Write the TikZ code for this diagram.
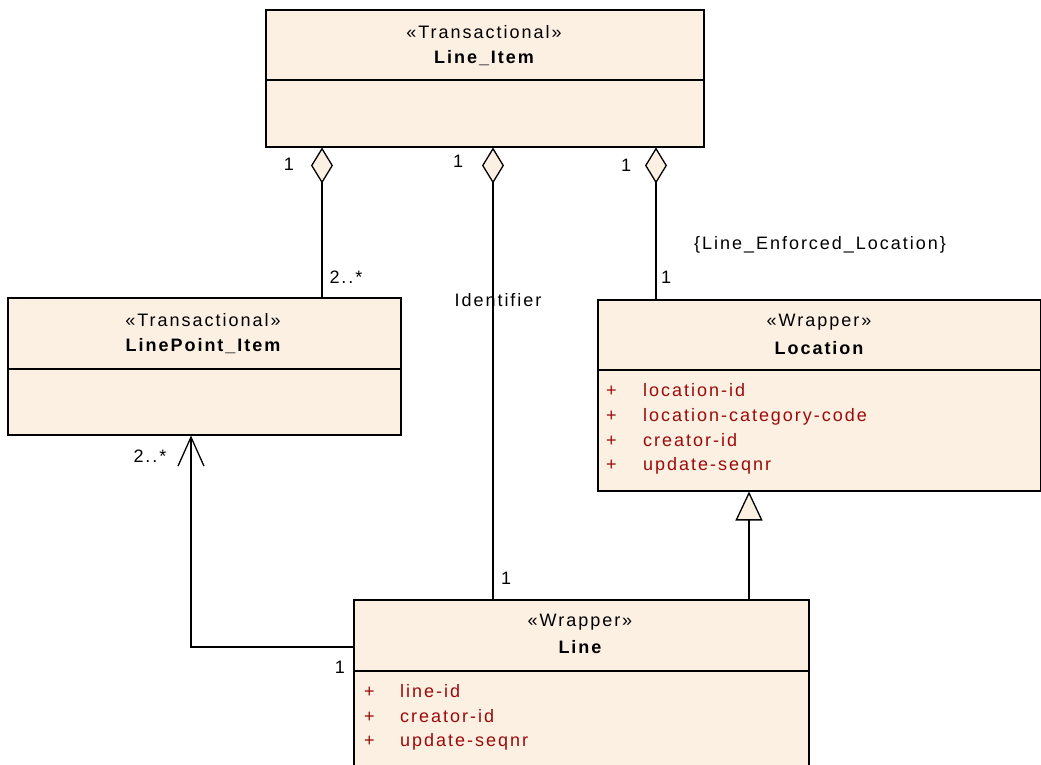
\documentclass[tikz,border=0pt]{standalone}
\usepackage{fontspec}
\setmainfont{Liberation Sans}[LetterSpace=11]
\usetikzlibrary{arrows.meta}
\definecolor{UMLFill}{HTML}{FBF0E2}
\definecolor{UMLAttr}{HTML}{9C0A0A}

\begin{document}
\begin{tikzpicture}[x=1pt,y=-1pt,
  every node/.style={font=\fontsize{18}{21}\selectfont,inner sep=0pt},
  umlbox/.style={draw,line width=1.5pt,fill=UMLFill,anchor=north west},
  cname/.style={font=\fontsize{18}{21}\selectfont\bfseries},
  attr/.style={anchor=base west,text=UMLAttr},
  sep/.style={line width=1.5pt},
  conn/.style={line width=1.3pt},
  aggr/.style={conn,{Diamond[length=36pt,width=22pt,fill=UMLFill,line width=1.3pt]}-},
  nav/.style={conn,-{Straight Barb[length=29pt,width=26pt,line width=1.3pt]}},
  gen/.style={conn,-{Triangle[open,length=29pt,width=27pt,fill=UMLFill,line width=1.3pt]}}]
\path[use as bounding box] (0,0) rectangle (1041,764);
% classes
\node[umlbox,minimum width=438pt,minimum height=137pt] (li) at (265,9) {};
\draw[sep] ([yshift=-71pt]li.north west) -- ([yshift=-71pt]li.north east);
\node (liS) at (484,32) {«Transactional»};
\node[cname] (liN) at (484,58) {Line\_Item};
\node[umlbox,minimum width=393pt,minimum height=137pt] (lp) at (7,297) {};
\draw[sep] ([yshift=-72pt]lp.north west) -- ([yshift=-72pt]lp.north east);
\node (lpS) at (203,320) {«Transactional»};
\node[cname] (lpN) at (203,346) {LinePoint\_Item};
\node[umlbox,minimum width=443pt,minimum height=191pt] (loc) at (597,299) {};
\draw[sep] ([yshift=-71pt]loc.north west) -- ([yshift=-71pt]loc.north east);
\node (locS) at (819,322) {«Wrapper»};
\node[cname] (locN) at (819,348) {Location};
\node[attr] at (606,396) {+};
\node[attr] at (643,396) {location-id};
\node[attr] at (606,421) {+};
\node[attr] at (643,421) {location-category-code};
\node[attr] at (606,446) {+};
\node[attr] at (643,446) {creator-id};
\node[attr] at (606,470) {+};
\node[attr] at (643,470) {update-seqnr};
\node[umlbox,minimum width=455pt,minimum height=200pt] (ln) at (353,599) {};
\draw[sep] ([yshift=-72pt]ln.north west) -- ([yshift=-72pt]ln.north east);
\node (lnS) at (580,622) {«Wrapper»};
\node[cname] (lnN) at (580,647) {Line};
\node[attr] at (364,697) {+};
\node[attr] at (400,697) {line-id};
\node[attr] at (364,722) {+};
\node[attr] at (400,722) {creator-id};
\node[attr] at (364,746) {+};
\node[attr] at (400,746) {update-seqnr};
% connectors
\coordinate (xa) at (322,0);
\coordinate (xb) at (493,0);
\coordinate (xc) at (656,0);
\coordinate (xd) at (749,0);
\coordinate (xe) at (191,647);
\draw[aggr] (li.south -| xa) -- (lp.north -| xa);
\draw[aggr] (li.south -| xb) -- (ln.north -| xb);
\draw[aggr] (li.south -| xc) -- (loc.north -| xc);
\draw[gen] (ln.north -| xd) -- (loc.south -| xd);
\draw[nav] (ln.west |- xe) -- (xe) -- (lp.south -| xe);
% labels
\node at (289,164) {1};
\node at (346,277) {2..*};
\node at (458,161) {1};
\node at (498,300) {Identifier};
\node at (506,578) {1};
\node at (626,165) {1};
\node at (820,245) {\{Line\_Enforced\_Location\}};
\node at (666,277) {1};
\node at (150,456) {2..*};
\node at (340,667) {1};
\end{tikzpicture}
\end{document}
